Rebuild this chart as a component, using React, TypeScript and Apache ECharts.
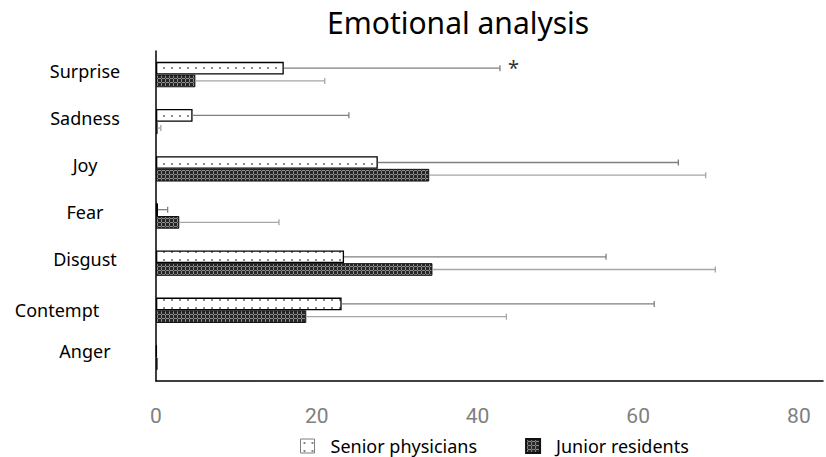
import React, { useEffect, useRef } from "react";
import * as echarts from "echarts";

const categories = ["Surprise", "Sadness", "Joy", "Fear", "Disgust", "Contempt", "Anger"];
const seniorMean = [15.9, 4.55, 27.6, 0.25, 23.4, 23.1, 0.1];
const seniorUpper = [42.8, 24.0, 65.0, 1.45, 56.0, 62.0, 0.1];
const juniorMean = [4.9, 0.2, 34.0, 2.9, 34.4, 18.7, 0.2];
const juniorUpper = [21.0, 0.6, 68.4, 15.3, 69.6, 43.6, 0.2];
const xTicks = [0, 20, 40, 60, 80];
const seriesNames = ["Senior physicians", "Junior residents"];

const FONT = "'Noto Sans', 'Open Sans', sans-serif";
const BAR_W = 12.7;
const LBL = 18;

function makeDotPattern() {
  const c = document.createElement("canvas");
  c.width = 8;
  c.height = 8;
  const ctx = c.getContext("2d")!;
  ctx.fillStyle = "#ffffff";
  ctx.fillRect(0, 0, 8, 8);
  ctx.fillStyle = "#8a8a8a";
  ctx.fillRect(3, 3, 2, 2);
  return c;
}

function makeDarkPattern() {
  const c = document.createElement("canvas");
  c.width = 4;
  c.height = 4;
  const ctx = c.getContext("2d")!;
  ctx.fillStyle = "#262626";
  ctx.fillRect(0, 0, 4, 4);
  ctx.fillStyle = "#8c8c8c";
  ctx.fillRect(1, 0, 1, 4);
  ctx.fillRect(0, 2, 4, 1);
  ctx.fillStyle = "#3c3c3c";
  ctx.fillRect(1, 2, 1, 1);
  return c;
}

function errorSeries(name: string, means: number[], uppers: number[], sign: number, stroke: string) {
  return {
    type: "custom",
    name: name + " error",
    silent: true,
    z: 3,
    encode: { x: [1, 2], y: 0 },
    data: means.map((m, i) => [i, m, uppers[i]]),
    renderItem: (params: any, api: any) => {
      const cat = api.value(0);
      const v = api.value(1);
      const e = api.value(2);
      if (!(e > v)) return { type: "group", children: [] };
      const s = api.coord([v, cat]);
      const t = api.coord([e, cat]);
      const y = s[1] + (sign * BAR_W) / 2;
      const style = { stroke, lineWidth: 1.3 };
      return {
        type: "group",
        children: [
          { type: "line", shape: { x1: s[0], y1: y, x2: t[0], y2: y }, style },
          { type: "line", shape: { x1: t[0], y1: y - 3, x2: t[0], y2: y + 3 }, style },
        ],
      };
    },
  };
}

export default function App() {
  const ref = useRef<HTMLDivElement>(null);
  useEffect(() => {
    if (!ref.current) return;
    const chart = echarts.init(ref.current, null, { renderer: "svg" });
    const dot = makeDotPattern();
    const dark = makeDarkPattern();
    const option: any = {
      animation: false,
      backgroundColor: "#ffffff",
      title: {
        text: "Emotional analysis",
        left: 327,
        top: 7,
        padding: 0,
        textStyle: { fontFamily: FONT, fontSize: 30, fontWeight: "normal", color: "#000" },
      },
      legend: {
        data: [
          { name: seriesNames[0], itemStyle: { borderColor: "#7f7f7f", borderWidth: 1 } },
          { name: seriesNames[1] },
        ],
        left: 300,
        top: 437,
        padding: 0,
        itemWidth: 14,
        itemHeight: 14,
        itemGap: 48,
        icon: "rect",
        textStyle: { fontFamily: FONT, fontSize: 18, color: "#000", padding: [0, 0, 0, 11] },
      },
      grid: { left: 156, right: 0, top: 51, bottom: 76 },
      xAxis: {
        type: "value",
        min: 0,
        max: 83,
        interval: 20,
        axisLine: { show: true, lineStyle: { color: "#000", width: 1.5 } },
        axisTick: { show: false },
        splitLine: { show: false },
        axisLabel: {
          margin: 24,
          fontFamily: "Roboto, sans-serif",
          fontSize: 21,
          color: "#808080",
          formatter: (v: number) => (xTicks.indexOf(v) >= 0 ? String(v) : ""),
        },
      },
      yAxis: {
        type: "category",
        inverse: true,
        data: categories,
        axisLine: { show: true, lineStyle: { color: "#000", width: 1.5 } },
        axisTick: { show: false },
        axisLabel: {
          margin: 71,
          align: "center",
          fontFamily: FONT,
          fontSize: LBL,
          color: "#000",
          formatter: (v: string) => (v === "Contempt" ? "{c|" + v + "}" : v === "Anger" ? "{g|" + v + "}" : "{a|" + v + "}"),
          rich: {
            a: { fontFamily: FONT, fontSize: LBL, color: "#000", padding: [0, 0, 8, 0] },
            c: { fontFamily: FONT, fontSize: LBL, color: "#000", padding: [0, 56, 0, 0] },
            g: { fontFamily: FONT, fontSize: LBL, color: "#000", padding: [0, 0, 12, 0] },
          },
        },
      },
      series: [
        {
          type: "bar",
          name: seriesNames[0],
          data: seniorMean,
          barWidth: BAR_W,
          barGap: "0%",
          z: 2,
          itemStyle: {
            color: { image: dot, repeat: "repeat", imageWidth: 8, imageHeight: 8 },
            borderColor: "#000",
            borderWidth: 1.3,
          },
        },
        {
          type: "bar",
          name: seriesNames[1],
          data: juniorMean,
          barWidth: BAR_W,
          barGap: "0%",
          z: 2,
          itemStyle: {
            color: { image: dark, repeat: "repeat", imageWidth: 4, imageHeight: 4 },
            borderColor: "#111",
            borderWidth: 1,
          },
        },
        errorSeries(seriesNames[0], seniorMean, seniorUpper, -1, "#7f7f7f"),
        errorSeries(seriesNames[1], juniorMean, juniorUpper, 1, "#a6a6a6"),
      ],
      graphic: [
        {
          type: "text",
          left: 508,
          top: 57,
          style: { text: "*", fontFamily: FONT, fontSize: 20, fill: "#333" },
        },
      ],
    };
    chart.setOption(option);
    return () => chart.dispose();
  }, []);
  return (
    <div
      ref={ref}
      style={{ position: "absolute", left: 0, top: 0, width: 826, height: 457 }}
    />
  );
}
